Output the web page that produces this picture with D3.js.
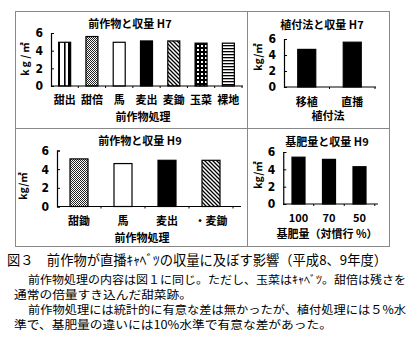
<!DOCTYPE html>
<html><head><meta charset="utf-8">
<script src="https://cdn.jsdelivr.net/npm/d3@7"></script>
<style>
html,body{margin:0;padding:0;background:#fff;}
svg{display:block;font-family:"Noto Sans CJK JP","Noto Sans",sans-serif;}
</style></head>
<body><svg id="c" width="411" height="340"></svg>
<script>
// ---- data ----
const cats1 = ["甜出","甜倍","馬","麦出","麦鋤","玉菜","裸地"];
const vals1 = [4.95, 5.6, 4.95, 5.1, 5.1, 4.85, 4.85];
const pats1 = ["vstripe","check","white","black","diag","grid","hstripe"];

const cats2 = ["移植","直播"];
const vals2 = [4.7, 5.6];
const pats2 = ["black","black"];

const cats3 = ["甜鋤","馬","麦出","・麦鋤"];
const vals3 = [5.1, 4.6, 4.95, 4.95];
const pats3 = ["check","white","black","diag"];

const cats4 = ["100","70","50"];
const vals4 = [5.4, 5.15, 4.3];
const pats4 = ["black","black","black"];

const yTicks = [0, 2, 4, 6];
const titles = ["前作物と収量 H7","植付法と収量 H7","前作物と収量 H9","基肥量と収量 H9"];
const xTitles = ["前作物処理","植付法","前作物処理","基肥量（対慣行 %）"];
const yTitle = "kg/㎡";
const captionLines = [
  "図３　前作物が直播ｷｬﾍﾞﾂの収量に及ぼす影響（平成8、9年度）",
  "前作物処理の内容は図１に同じ。ただし、玉菜はｷｬﾍﾞﾂ。甜倍は残さを",
  "通常の倍量すき込んだ甜菜跡。",
  "前作物処理には統計的に有意な差は無かったが、植付処理には５%水",
  "準で、基肥量の違いには10%水準で有意な差があった。"
];

const svg = d3.select("#c");
const defs = svg.append("defs");

// patterns
function pat(id, w, h, draw){
  const p = defs.append("pattern").attr("id", id).attr("patternUnits","userSpaceOnUse")
    .attr("width", w).attr("height", h);
  draw(p);
}
pat("vstripe", 12, 10, p=>{
  p.append("rect").attr("width",12).attr("height",10).attr("fill","#fff");
  p.append("rect").attr("x",4).attr("width",1.6).attr("height",10).attr("fill","#000");
  p.append("rect").attr("x",8).attr("width",4).attr("height",10).attr("fill","#000");
});
pat("check", 2, 2, p=>{
  p.append("rect").attr("width",2).attr("height",2).attr("fill","#fff");
  p.append("rect").attr("width",1).attr("height",1).attr("fill","#222");
  p.append("rect").attr("x",1).attr("y",1).attr("width",1).attr("height",1).attr("fill","#222");
});
pat("diag", 4, 4, p=>{
  p.append("rect").attr("width",4).attr("height",4).attr("fill","#fff");
  p.append("path").attr("d","M-1,-1 L5,5 M-1,3 L1,5 M3,-1 L5,1").attr("stroke","#000").attr("stroke-width",1.3);
});
pat("grid", 4, 4, p=>{
  p.append("rect").attr("width",4).attr("height",4).attr("fill","#000");
  p.append("rect").attr("x",1).attr("y",1).attr("width",2).attr("height",2).attr("fill","#fff");
});
pat("hstripe", 4, 3, p=>{
  p.append("rect").attr("width",4).attr("height",3).attr("fill","#fff");
  p.append("rect").attr("width",4).attr("height",1.3).attr("fill","#000");
});
function fillFor(k){
  if (k === "white") return "#fff";
  if (k === "black") return "#000";
  return "url(#" + k + ")";
}

// frames
const frame = svg.append("g").attr("fill","none").attr("stroke","#888").attr("stroke-width",1);
frame.append("rect").attr("x",15.5).attr("y",11.5).attr("width",374).attr("height",235);
frame.append("line").attr("x1",247.5).attr("x2",247.5).attr("y1",11.5).attr("y2",246.5);
frame.append("line").attr("x1",15.5).attr("x2",389.5).attr("y1",128.5).attr("y2",128.5);

function panel(cfg){
  const g = svg.append("g");
  const x = d3.scalePoint().domain(cfg.cats).range(cfg.xr).padding(0.5);
  const y = d3.scaleLinear().domain([0,6]).range(cfg.yr);
  const step = x.step();
  // bars
  g.selectAll("rect.bar").data(cfg.cats).join("rect")
    .attr("class","bar")
    .attr("x", d => x(d) - cfg.bw/2)
    .attr("width", cfg.bw)
    .attr("y", (d,i) => y(cfg.vals[i]))
    .attr("height", (d,i) => y(0) - y(cfg.vals[i]))
    .attr("fill", (d,i) => fillFor(cfg.pats[i]))
    .attr("stroke","#000").attr("stroke-width",1.2);
  // y axis
  const ya = g.append("g").attr("transform", `translate(${cfg.xr[0]},0)`)
    .call(d3.axisLeft(y).tickValues(yTicks).tickSize(-3).tickPadding(8).tickFormat(d3.format("d")));
  ya.select(".domain").attr("stroke","#000").attr("stroke-width",1.2);
  ya.selectAll(".tick line").attr("stroke","#000");
  ya.selectAll("text").attr("font-size",12).attr("font-weight","bold").attr("fill","#000")
    .attr("font-family","'Liberation Sans Narrow','DejaVu Sans Condensed',sans-serif");
  // x axis line
  g.append("line").attr("x1",cfg.xr[0]).attr("x2",cfg.axEnd)
    .attr("y1",y(0)).attr("y2",y(0)).attr("stroke","#000").attr("stroke-width",1.2);
  // small ticks between bands
  const bounds = d3.range(1, cfg.cats.length + 1).map(i => cfg.xr[0] + step * i);
  g.selectAll("line.bt").data(bounds).join("line").attr("class","bt")
    .attr("x1", d=>d).attr("x2", d=>d).attr("y1", y(0)).attr("y2", y(0)+2)
    .attr("stroke","#000");
  // category labels
  g.selectAll("text.cl").data(cfg.cats).join("text").attr("class","cl")
    .attr("x", d => x(d)).attr("y", cfg.labY)
    .attr("text-anchor","middle").attr("font-size", cfg.labFs).attr("font-weight","bold")
    .attr("fill","#000").text(d => d);
  // title
  g.append("text").attr("x", cfg.tX).attr("y", cfg.tY).attr("text-anchor","middle")
    .attr("font-size",11).attr("font-weight","bold").text(cfg.title);
  // x title
  g.append("text").attr("x", cfg.xtX).attr("y", cfg.xtY).attr("text-anchor","middle")
    .attr("font-size",11).attr("font-weight","bold").text(cfg.xTitle);
  // y title
  g.append("text").attr("transform", `translate(${cfg.ytX},${cfg.ytY}) rotate(-90)`)
    .attr("text-anchor","middle").attr("font-size",10.5).attr("font-weight","bold")
    .attr("letter-spacing", cfg.ytLs || 0).text(yTitle);
}

panel({cats:cats1, vals:vals1, pats:pats1, xr:[51,242], axEnd:243, yr:[86,33], bw:12,
  labY:104, labFs:11, tX:130, tY:28, title:titles[0], xtX:143, xtY:121, xTitle:xTitles[0],
  ytX:29, ytY:58, ytLs:2});
panel({cats:cats2, vals:vals2, pats:pats2, xr:[284,375], axEnd:376, yr:[87,39], bw:18,
  labY:106, labFs:11, tX:322, tY:29, title:titles[1], xtX:328, xtY:120, xTitle:xTitles[1],
  ytX:262, ytY:57});
panel({cats:cats3, vals:vals3, pats:pats3, xr:[57,233], axEnd:241, yr:[206.5,150.5], bw:18,
  labY:225, labFs:11, tX:140, tY:145, title:titles[2], xtX:142, xtY:241.5, xTitle:xTitles[2],
  ytX:27, ytY:186});
panel({cats:cats4, vals:vals4, pats:pats4, xr:[283.25,374.75], axEnd:378, yr:[204,152], bw:13,
  labY:222, labFs:11, tX:327, tY:146, title:titles[3], xtX:327, xtY:238, xTitle:xTitles[3],
  ytX:262, ytY:175});

// caption
const cap = [
  {x:7, y:265, w:380, fs:13.5},
  {x:28, y:284, w:378, fs:11.5},
  {x:14, y:299, w:178, fs:11.5},
  {x:28, y:314, w:378, fs:11.5},
  {x:14, y:329, w:318, fs:11.5}
];
svg.selectAll("text.cap").data(captionLines).join("text").attr("class","cap")
  .attr("x",(d,i)=>cap[i].x).attr("y",(d,i)=>cap[i].y)
  .attr("font-size",(d,i)=>cap[i].fs)
  .attr("textLength",(d,i)=>cap[i].w).attr("lengthAdjust","spacingAndGlyphs")
  .attr("fill","#000").text(d=>d);
</script></body></html>
